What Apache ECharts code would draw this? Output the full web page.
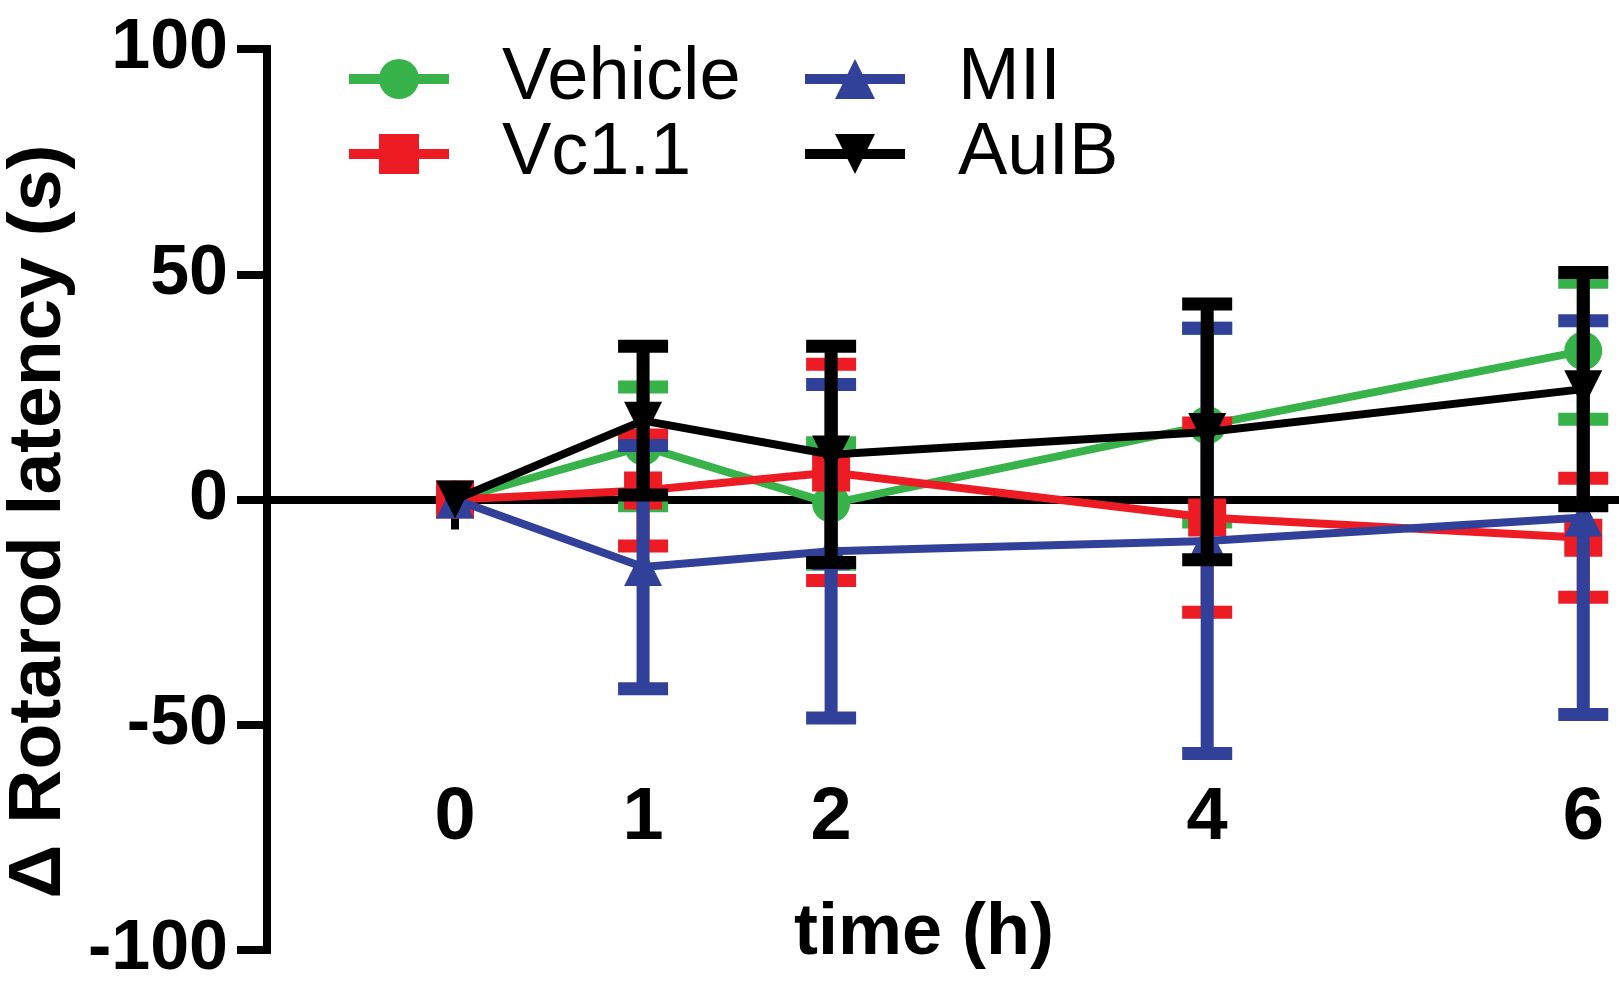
<!DOCTYPE html>
<html>
<head>
<meta charset="utf-8">
<script src="https://cdn.jsdelivr.net/npm/echarts@6/dist/echarts.min.js"></script>
<style>
html,body{margin:0;padding:0;background:#fff;}
#chart{width:1619px;height:983px;}
</style>
</head>
<body>
<div id="chart"></div>
<script>
// ---- data ----
const times = [0, 1, 2, 4, 6];
const xTickLabels = [0, 1, 2, 4, 6];
const yTickLabels = [-100, -50, 0, 50, 100];
const seriesNames = ['Vehicle', 'Vc1.1', 'MII', 'AuIB'];
const vehicleMean = [0, 11.8, -0.9, 16.5, 33];
const vehicleSem  = [0, 13.2, 13.5, 21.5, 15.2];
const vc11Mean = [0, 2, 6, -4, -8.5];
const vc11Sem  = [0, 12.3, 24, 21, 13.2];
const miiMean = [0, -15, -11.5, -9.2, -4];
const miiSem  = [0, 27, 37, 47.2, 43.7];
const aulbMean = [0, 17.5, 10, 15, 24.5];
const aulbSem  = [0, 16.5, 24, 28.4, 25.9];

// ---- styles ----
const FONT = "'Liberation Sans', Arial, Helvetica, sans-serif";
const colors = ['#37b34a', '#ed1c24', '#31419a', '#000000'];
const symbols = ['circle', 'rect', 'triangle', 'triangle'];
const symbolRot = [0, 0, 0, 180];
const means = [vehicleMean, vc11Mean, miiMean, aulbMean];
const sems = [vehicleSem, vc11Sem, miiSem, aulbSem];

function errRenderer(color) {
  return function (params, api) {
    const x = api.value(0), m = api.value(1), e = api.value(2);
    if (!e) return {type: 'group', children: []};
    const top = api.coord([x, m + e]);
    const bot = api.coord([x, m - e]);
    const th = 13, cw = 50;
    return {
      type: 'group',
      children: [
        {type: 'rect', shape: {x: top[0] - th / 2, y: top[1], width: th, height: bot[1] - top[1]}, style: {fill: color}},
        {type: 'rect', shape: {x: top[0] - cw / 2, y: top[1] - th / 2, width: cw, height: th}, style: {fill: color}},
        {type: 'rect', shape: {x: bot[0] - cw / 2, y: bot[1] - th / 2, width: cw, height: th}, style: {fill: color}}
      ]
    };
  };
}

const series = [];
seriesNames.forEach(function (name, i) {
  series.push({
    type: 'custom',
    name: name + ' SEM',
    z: 2 + i,
    clip: false,
    renderItem: errRenderer(colors[i]),
    encode: {x: 0, y: 1},
    data: times.map(function (t, k) { return [t, means[i][k], sems[i][k]]; }),
    silent: true
  });
  series.push({
    type: 'line',
    name: name,
    z: 2 + i,
    clip: false,
    symbol: symbols[i],
    symbolRotate: symbolRot[i],
    symbolSize: 38,
    showAllSymbol: true,
    color: colors[i],
    lineStyle: {width: 8, color: colors[i]},
    itemStyle: {color: colors[i]},
    data: times.map(function (t, k) { return [t, means[i][k]]; }),
    animation: false
  });
});

const legendPos = [
  {name: 'Vehicle', left: 344, top: 42},
  {name: 'Vc1.1', left: 344, top: 117},
  {name: 'MII', left: 800, top: 42},
  {name: 'AuIB', left: 800, top: 117}
];

const option = {
  animation: false,
  backgroundColor: '#fff',
  grid: {left: 267, right: 0, top: 49, bottom: 33, containLabel: false, outerBoundsMode: 'none'},
  legend: legendPos.map(function (p) {
    return {
      data: [p.name],
      left: p.left,
      top: p.top,
      padding: 0,
      itemWidth: 100,
      itemHeight: 50,
      selectedMode: false,
      lineStyle: {width: 10},
      textStyle: {fontFamily: FONT, fontSize: 74, color: '#000', padding: [0, 0, 0, 48]}
    };
  }),
  xAxis: {
    type: 'value',
    min: -1,
    max: 6.19,
    name: 'time (h)',
    nameLocation: 'middle',
    nameGap: -52,
    nameTextStyle: {fontFamily: FONT, fontSize: 72, fontWeight: 'bold', color: '#000', padding: [0, 38, 0, 0]},
    axisLine: {show: true, onZero: true, lineStyle: {color: '#000', width: 8}},
    axisTick: {show: true, customValues: xTickLabels, length: 30, lineStyle: {color: '#000', width: 8}},
    axisLabel: {customValues: xTickLabels, margin: -168, fontFamily: FONT, fontSize: 74, fontWeight: 'bold', color: '#000'},
    splitLine: {show: false}
  },
  yAxis: {
    type: 'value',
    min: -100,
    max: 100,
    interval: 50,
    name: 'Δ Rotarod latency (s)',
    nameLocation: 'middle',
    nameRotate: 90,
    nameGap: 182,
    nameTextStyle: {fontFamily: FONT, fontSize: 75, fontWeight: 'bold', color: '#000', padding: [0, 44, 0, 0]},
    axisLine: {show: true, onZero: false, lineStyle: {color: '#000', width: 8, cap: 'square'}},
    axisTick: {show: true, length: 30, lineStyle: {color: '#000', width: 8}},
    axisLabel: {margin: 39, fontFamily: FONT, fontSize: 70, fontWeight: 'bold', color: '#000'},
    splitLine: {show: false}
  },
  series: series
};

const chart = echarts.init(document.getElementById('chart'), null, {renderer: 'canvas'});
chart.setOption(option);
</script>
</body>
</html>
